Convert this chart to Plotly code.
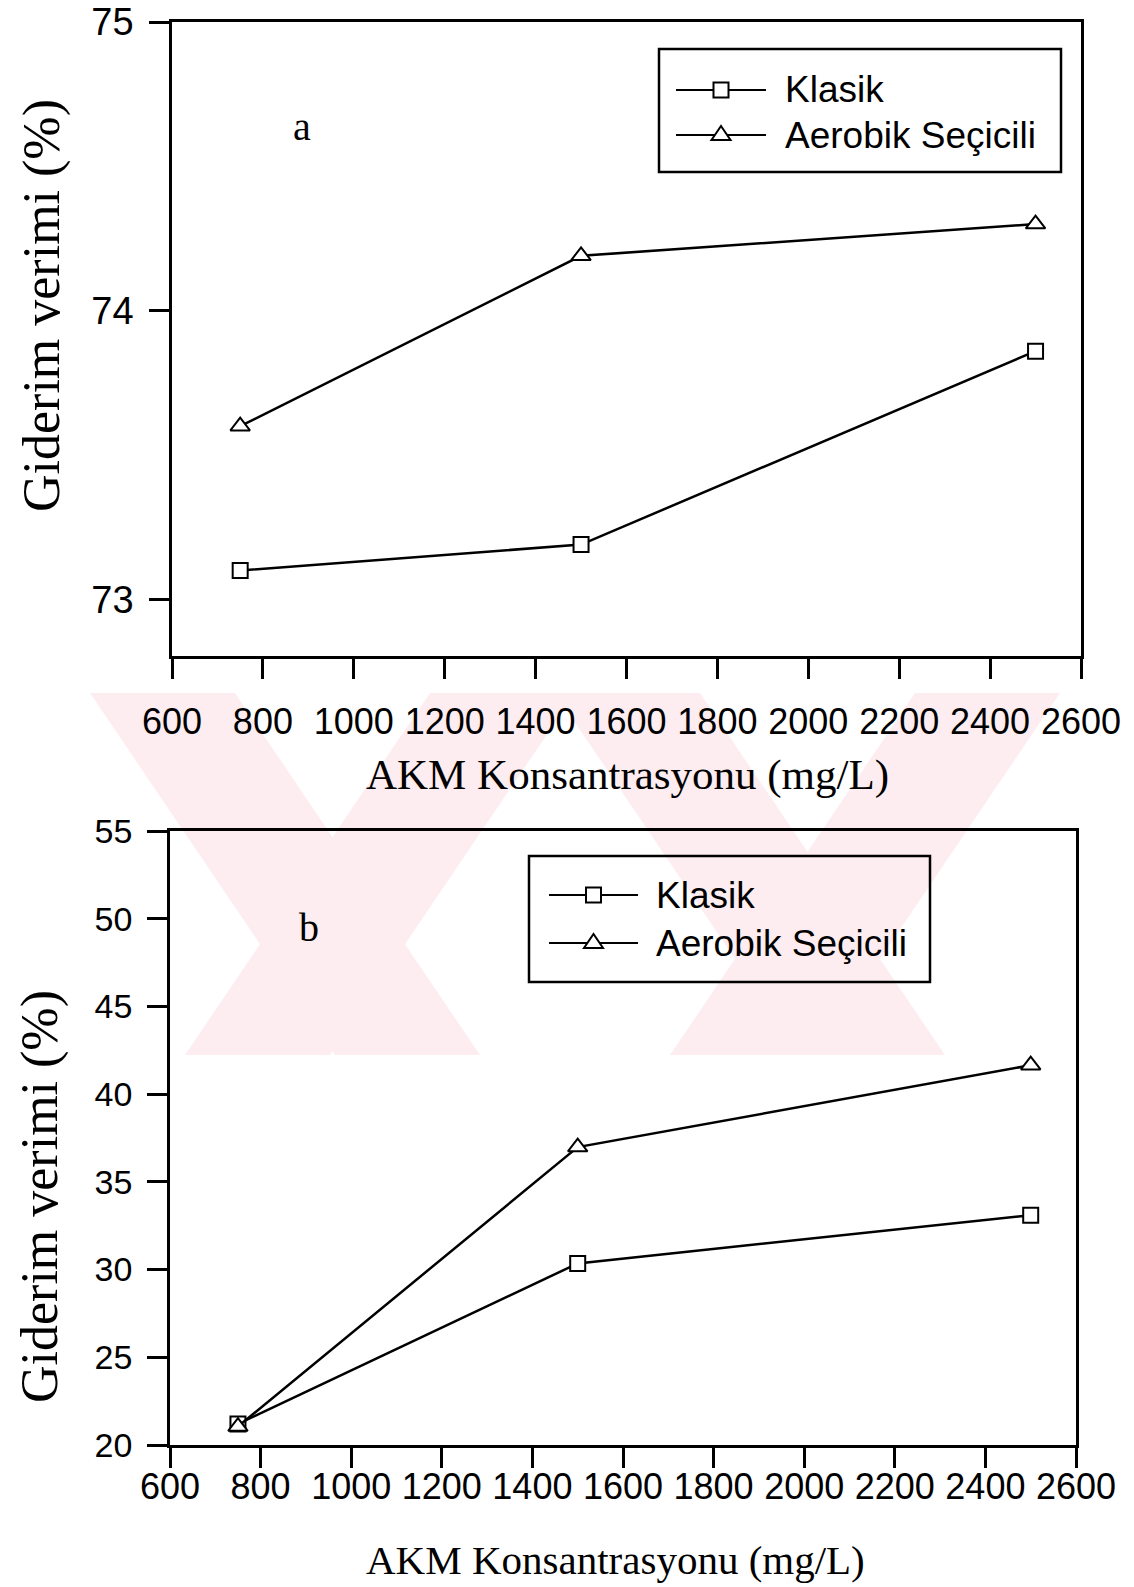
import plotly.graph_objects as go

W, H = 1134, 1587

# ---------------- data ----------------
akm = [750, 1500, 2500]
klasik_a = [73.1, 73.19, 73.86]
aerobik_a = [73.6, 74.19, 74.3]
klasik_b = [21.2, 30.35, 33.1]
aerobik_b = [21.05, 36.98, 41.65]
series_names = ["Klasik", "Aerobik Seçicili"]
x_ticks = [600, 800, 1000, 1200, 1400, 1600, 1800, 2000, 2200, 2400, 2600]
y_ticks_a = [73, 74, 75]
y_ticks_b = [20, 25, 30, 35, 40, 45, 50, 55]
panel_labels = ["a", "b"]
x_title = "AKM Konsantrasyonu (mg/L)"
y_title = "Giderim verimi (%)"

SANS = "Liberation Sans, Arial, sans-serif"
SERIF = "Liberation Serif, Times New Roman, serif"


def fx(x):
    return x / W


def fy(y):
    return 1 - y / H


fig = go.Figure()

line_style = dict(color="black", width=2.5)
sq_marker = dict(symbol="square", size=15, color="white", line=dict(color="black", width=2))
tri_marker = dict(symbol="triangle-up", size=17, color="white", line=dict(color="black", width=2))

fig.add_trace(go.Scatter(x=akm, y=klasik_a, mode="lines+markers", name=series_names[0],
                         line=line_style, marker=sq_marker, xaxis="x", yaxis="y", showlegend=False))
fig.add_trace(go.Scatter(x=akm, y=aerobik_a, mode="lines+markers", name=series_names[1],
                         line=line_style, marker=tri_marker, xaxis="x", yaxis="y", showlegend=False))
fig.add_trace(go.Scatter(x=akm, y=klasik_b, mode="lines+markers", name=series_names[0],
                         line=line_style, marker=sq_marker, xaxis="x2", yaxis="y2", showlegend=False))
fig.add_trace(go.Scatter(x=akm, y=aerobik_b, mode="lines+markers", name=series_names[1],
                         line=line_style, marker=tri_marker, xaxis="x2", yaxis="y2", showlegend=False))

ax = dict(showline=True, linecolor="black", linewidth=2.5, mirror=True,
          ticks="outside", ticklen=20, tickwidth=2.5, tickcolor="black",
          showgrid=False, zeroline=False, automargin=False, tickangle=0)

fig.update_layout(
    width=W, height=H, template="none",
    paper_bgcolor="white", plot_bgcolor="rgba(0,0,0,0)",
    margin=dict(l=0, r=0, t=0, b=0, pad=0),
    showlegend=False,
    xaxis=dict(ax, domain=[fx(172), fx(1081)], range=[600, 2600], tickvals=x_ticks,
               anchor="y", tickfont=dict(family=SANS, size=36, color="black"),
               ticklabelstandoff=12),
    yaxis=dict(ax, domain=[fy(656), fy(22)], range=[72.804, 75], tickvals=y_ticks_a,
               anchor="x", tickfont=dict(family=SANS, size=38, color="black"),
               ticklabelstandoff=8),
    xaxis2=dict(ax, domain=[fx(170), fx(1076)], range=[600, 2600], tickvals=x_ticks,
                anchor="y2", tickfont=dict(family=SANS, size=36, color="black"),
                ticklabelstandoff=-12),
    yaxis2=dict(ax, domain=[fy(1445), fy(831)], range=[20, 55], tickvals=y_ticks_b,
                anchor="x2", tickfont=dict(family=SANS, size=34, color="black"),
                ticklabelstandoff=8),
)

shapes = []
annotations = []

# ---------------- watermark (faint pink background decoration) ----------------
pink = "#fdedf0"
wm_top, wm_bot = 693, 1055
bands = [
    [(90, wm_top), (235, wm_top), (480, wm_bot), (335, wm_bot)],
    [(430, wm_top), (575, wm_top), (330, wm_bot), (185, wm_bot)],
    [(555, wm_top), (700, wm_top), (945, wm_bot), (800, wm_bot)],
    [(915, wm_top), (1060, wm_top), (815, wm_bot), (670, wm_bot)],
]
for poly in bands:
    path = "M " + " L ".join(f"{fx(px):.5f},{fy(py):.5f}" for px, py in poly) + " Z"
    shapes.append(dict(type="path", xref="paper", yref="paper", path=path,
                       fillcolor=pink, line=dict(width=0), layer="below"))

# ---------------- custom legends ----------------
def add_legend(box, row_y, sample_x, text_x):
    x0, y0, x1, y1 = box
    shapes.append(dict(type="rect", xref="paper", yref="paper",
                       x0=fx(x0), x1=fx(x1), y0=fy(y1), y1=fy(y0),
                       line=dict(color="black", width=2.5), fillcolor="rgba(0,0,0,0)", layer="above"))
    cx = (sample_x[0] + sample_x[1]) / 2
    for i, ry in enumerate(row_y):
        shapes.append(dict(type="line", xref="paper", yref="paper",
                           x0=fx(sample_x[0]), x1=fx(sample_x[1]), y0=fy(ry), y1=fy(ry),
                           line=dict(color="black", width=2), layer="above"))
        if i == 0:
            s = 7.5
            shapes.append(dict(type="rect", xref="paper", yref="paper",
                               x0=fx(cx - s), x1=fx(cx + s), y0=fy(ry + s), y1=fy(ry - s),
                               line=dict(color="black", width=2), fillcolor="white", layer="above"))
        else:
            pts = [(cx - 9.5, ry + 5), (cx + 9.5, ry + 5), (cx, ry - 9)]
            path = "M " + " L ".join(f"{fx(px):.5f},{fy(py):.5f}" for px, py in pts) + " Z"
            shapes.append(dict(type="path", xref="paper", yref="paper", path=path,
                               line=dict(color="black", width=2), fillcolor="white", layer="above"))
        annotations.append(dict(xref="paper", yref="paper", x=fx(text_x), y=fy(ry),
                                xanchor="left", yanchor="middle", showarrow=False,
                                text=series_names[i],
                                font=dict(family=SANS, size=37, color="black")))


add_legend((659, 49, 1061, 172), [90, 135], (676, 766), 783)
add_legend((529, 856, 930, 982), [895, 943], (549, 638), 654)

# ---------------- titles and panel labels ----------------
for (cx, cy, fs) in [(627, 775, 43), (615, 1560, 41)]:
    annotations.append(dict(xref="paper", yref="paper", x=fx(cx), y=fy(cy),
                            xanchor="center", yanchor="middle", showarrow=False,
                            text=x_title, font=dict(family=SERIF, size=fs, color="black")))
for (cx, cy) in [(42, 306), (40, 1197)]:
    annotations.append(dict(xref="paper", yref="paper", x=fx(cx), y=fy(cy),
                            xanchor="center", yanchor="middle", showarrow=False, textangle=-90,
                            text=y_title, font=dict(family=SERIF, size=52, color="black")))
for lab, (cx, cy) in zip(panel_labels, [(302, 127), (309, 927)]):
    annotations.append(dict(xref="paper", yref="paper", x=fx(cx), y=fy(cy),
                            xanchor="center", yanchor="middle", showarrow=False,
                            text=lab, font=dict(family=SERIF, size=40, color="black")))

fig.update_layout(shapes=shapes, annotations=annotations)
fig.write_html("out.html")
